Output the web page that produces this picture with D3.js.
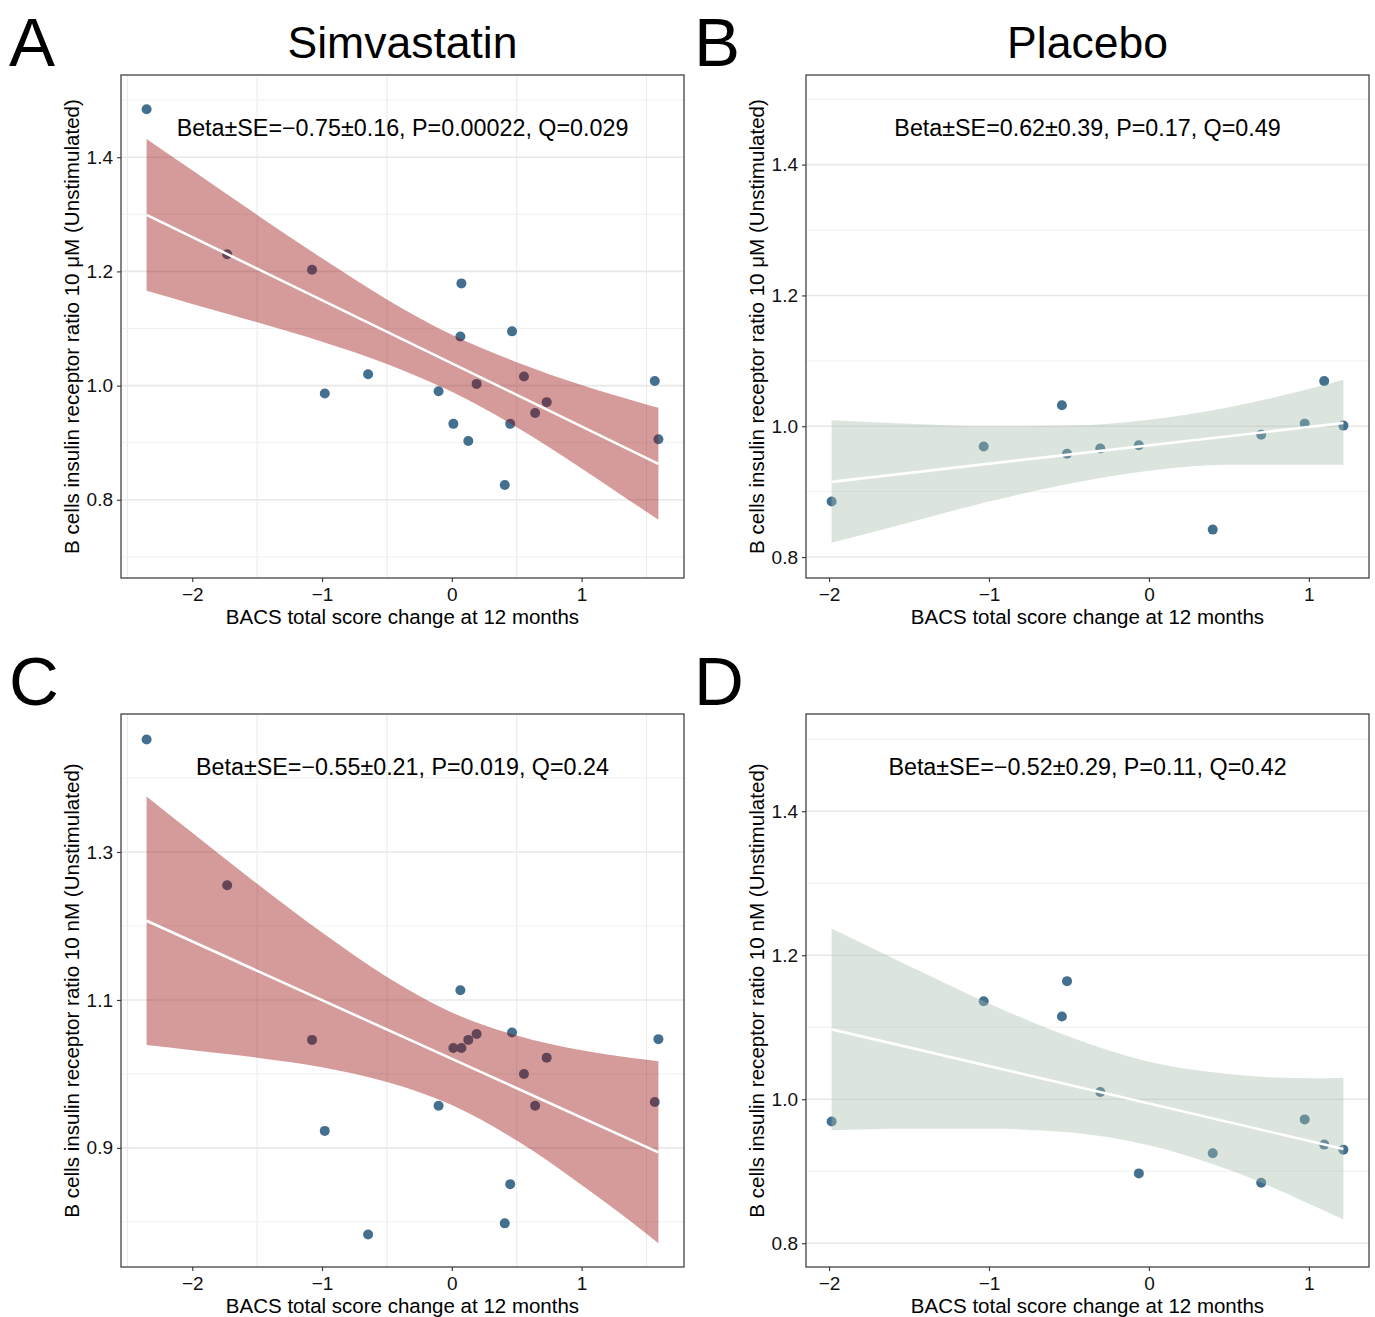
<!DOCTYPE html>
<meta charset="utf-8">
<script src="https://d3js.org/d3.v7.min.js"></script>
<style>
  body { margin: 0; background: #fff; }
  svg text { font-family: "Liberation Sans", Arial, sans-serif; }
</style>
<div id="chart"></div>
<script>

// ---- data ----
// simvastatin arm (19 subjects)
var simvX      = [-2.352, -1.731, -1.077, -0.979, -0.645, -0.102, 0.012, 0.074, 0.066, 0.127, 0.191, 0.464, 0.408, 0.450, 0.556, 0.642, 0.731, 1.564, 1.592];
var simvY_uM   = [1.484, 1.230, 1.203, 0.986, 1.020, 0.990, 0.933, 1.179, 1.086, 0.903, 1.003, 1.095, 0.826, 0.933, 1.016, 0.952, 0.971, 1.008, 0.906];
var simvY_nM   = [1.452, 1.255, 1.046, 0.923, 0.783, 0.957, 1.035, 1.035, 1.113, 1.046, 1.054, 1.056, 0.798, 0.851, 1.000, 0.957, 1.022, 0.962, 1.047];

// placebo arm (11 subjects)
var placX      = [-1.984, -1.033, -0.544, -0.512, -0.304, -0.063, 0.399, 0.702, 0.974, 1.096, 1.216];
var placY_uM   = [0.885, 0.969, 1.032, 0.958, 0.966, 0.971, 0.842, 0.987, 1.004, 1.069, 1.001];
var placY_nM   = [0.969, 1.136, 1.115, 1.164, 1.010, 0.897, 0.925, 0.884, 0.972, 0.937, 0.930];

// fitted line (ends) and confidence band
var simvBandX  = [-2.352, -2, -1.5, -1, -0.5, 0, 0.5, 1, 1.5, 1.592];
var bandA_hi   = [1.432, 1.377, 1.299, 1.223, 1.151, 1.089, 1.041, 1.001, 0.967, 0.961];
var bandA_lo   = [1.166, 1.143, 1.111, 1.077, 1.038, 0.989, 0.927, 0.855, 0.779, 0.765];
var fitA       = [1.299, 0.863];
var bandC_hi   = [1.375, 1.326, 1.257, 1.191, 1.131, 1.083, 1.052, 1.032, 1.019, 1.017];
var bandC_lo   = [1.039, 1.032, 1.022, 1.009, 0.989, 0.958, 0.910, 0.850, 0.784, 0.771];
var fitC       = [1.207, 0.894];

var placBandX  = [-1.984, -1.5, -1, -0.5, 0, 0.5, 1, 1.216];
var bandB_hi   = [1.009, 1.004, 1.000, 1.001, 1.010, 1.029, 1.057, 1.071];
var bandB_lo   = [0.822, 0.853, 0.885, 0.912, 0.932, 0.941, 0.941, 0.941];
var fitB       = [0.915, 1.005];
var bandD_hi   = [1.237, 1.185, 1.133, 1.087, 1.052, 1.035, 1.029, 1.030];
var bandD_lo   = [0.957, 0.959, 0.959, 0.954, 0.936, 0.902, 0.855, 0.833];
var fitD       = [1.097, 0.931];

// axis limits and ticks
var yLimA = [0.663, 1.544], yLimB = [0.768, 1.537], yLimC = [0.739, 1.4865], yLimD = [0.767, 1.535];
var yTicksA = [0.8, 1.0, 1.2, 1.4], yTicksB = [0.8, 1.0, 1.2, 1.4], yTicksC = [0.9, 1.1, 1.3], yTicksD = [0.8, 1.0, 1.2, 1.4];
var xTicksSimv = [-2, -1, 0, 1], xTicksPlac = [-2, -1, 0, 1];

var titles = ["Simvastatin", "Placebo"];
var letters = ["A", "B", "C", "D"];
var stats = [
  "Beta\u00B1SE=\u22120.75\u00B10.16, P=0.00022, Q=0.029",
  "Beta\u00B1SE=0.62\u00B10.39, P=0.17, Q=0.49",
  "Beta\u00B1SE=\u22120.55\u00B10.21, P=0.019, Q=0.24",
  "Beta\u00B1SE=\u22120.52\u00B10.29, P=0.11, Q=0.42"
];
var yTitles = ["B cells insulin receptor ratio 10 \u03BCM (Unstimulated)", "B cells insulin receptor ratio 10 nM (Unstimulated)"];
var xTitle = "BACS total score change at 12 months";

// ---- layout ----
var W = 1375, H = 1317;
var svg = d3.select("#chart").append("svg").attr("width", W).attr("height", H);

var panels = [
  {left: 121, right: 684, top: 75, bottom: 578, xs: simvX, ys: simvY_uM, bx: simvBandX, hi: bandA_hi, lo: bandA_lo, fit: fitA, ylim: yLimA, yt: yTicksA, xt: xTicksSimv, fill: "#960505", letter: 0, title: titles[0], ytitle: yTitles[0]},
  {left: 806, right: 1369, top: 75, bottom: 578, xs: placX, ys: placY_uM, bx: placBandX, hi: bandB_hi, lo: bandB_lo, fit: fitB, ylim: yLimB, yt: yTicksB, xt: xTicksPlac, fill: "#a5beac", letter: 1, title: titles[1], ytitle: yTitles[0]},
  {left: 121, right: 684, top: 714, bottom: 1267, xs: simvX, ys: simvY_nM, bx: simvBandX, hi: bandC_hi, lo: bandC_lo, fit: fitC, ylim: yLimC, yt: yTicksC, xt: xTicksSimv, fill: "#960505", letter: 2, title: null, ytitle: yTitles[1]},
  {left: 806, right: 1369, top: 714, bottom: 1267, xs: placX, ys: placY_nM, bx: placBandX, hi: bandD_hi, lo: bandD_lo, fit: fitD, ylim: yLimD, yt: yTicksD, xt: xTicksPlac, fill: "#a5beac", letter: 3, title: null, ytitle: yTitles[1]}
];

panels.forEach(function(p, k) {
  var ext = d3.extent(p.xs), pad = (ext[1] - ext[0]) * 0.05;
  var x = d3.scaleLinear().domain([ext[0] - pad, ext[1] + pad]).range([p.left, p.right]);
  var y = d3.scaleLinear().domain(p.ylim).range([p.bottom, p.top]);
  var g = svg.append("g");

  // minor grid (half steps)
  var xMinor = d3.range(Math.ceil(x.domain()[0] * 2) / 2, x.domain()[1], 1).filter(function(v){ return Math.abs(v % 1) === 0.5; });
  var yMinor = p.yt.map(function(v){ return v - 0.1; }).concat([p.yt[p.yt.length - 1] + 0.1])
    .filter(function(v){ return v > p.ylim[0] && v < p.ylim[1]; });
  g.selectAll(".xminor").data(xMinor).enter().append("line")
    .attr("x1", function(d){ return x(d); }).attr("x2", function(d){ return x(d); })
    .attr("y1", p.top).attr("y2", p.bottom)
    .attr("stroke", "#ebebeb").attr("stroke-width", 1.1);
  g.selectAll(".yminor").data(yMinor).enter().append("line")
    .attr("x1", p.left).attr("x2", p.right)
    .attr("y1", function(d){ return y(d); }).attr("y2", function(d){ return y(d); })
    .attr("stroke", "#f0f0f0").attr("stroke-width", 1);
  g.selectAll(".ymajor").data(p.yt).enter().append("line")
    .attr("x1", p.left).attr("x2", p.right)
    .attr("y1", function(d){ return y(d); }).attr("y2", function(d){ return y(d); })
    .attr("stroke", "#e8e8e8").attr("stroke-width", 1.6);

  // points (under the band)
  g.selectAll("circle").data(p.xs).enter().append("circle")
    .attr("cx", function(d){ return x(d); })
    .attr("cy", function(d, i){ return y(p.ys[i]); })
    .attr("r", 5)
    .attr("fill", "#44708f");

  // confidence band
  var band = p.bx.map(function(v, i){ return {x: v, lo: p.lo[i], hi: p.hi[i]}; });
  g.append("path").datum(band)
    .attr("d", d3.area().curve(d3.curveMonotoneX)
      .x(function(d){ return x(d.x); })
      .y0(function(d){ return y(d.lo); })
      .y1(function(d){ return y(d.hi); }))
    .attr("fill", p.fill).attr("fill-opacity", 0.4);

  // fitted line
  g.append("path").datum([{x: p.bx[0], y: p.fit[0]}, {x: p.bx[p.bx.length - 1], y: p.fit[1]}])
    .attr("d", d3.line().x(function(d){ return x(d.x); }).y(function(d){ return y(d.y); }))
    .attr("stroke", "#ffffff").attr("stroke-width", 2.6).attr("fill", "none");

  // panel border
  g.append("rect").attr("x", p.left).attr("y", p.top)
    .attr("width", p.right - p.left).attr("height", p.bottom - p.top)
    .attr("fill", "none").attr("stroke", "#333333").attr("stroke-width", 1.2);

  // axes
  var xAxis = g.append("g").attr("transform", "translate(0," + p.bottom + ")")
    .call(d3.axisBottom(x).tickValues(p.xt).tickSize(4).tickPadding(6).tickFormat(d3.format("d")));
  var yAxis = g.append("g").attr("transform", "translate(" + p.left + ",0)")
    .call(d3.axisLeft(y).tickValues(p.yt).tickSize(4).tickPadding(4).tickFormat(d3.format(".1f")));
  [xAxis, yAxis].forEach(function(a) {
    a.select(".domain").remove();
    a.selectAll(".tick line").attr("stroke", "#333333").attr("stroke-width", 1.1);
    a.selectAll(".tick text").attr("fill", "#111111").style("font-size", "19px")
      .style("font-family", "'Liberation Sans', Arial, sans-serif");
  });

  // stats annotation
  var cx = (p.left + p.right) / 2;
  g.append("text").attr("x", cx).attr("y", p.top + 61)
    .attr("text-anchor", "middle").style("font-size", "23.3px").attr("fill", "#000")
    .text(stats[k]);

  // axis titles
  g.append("text").attr("x", cx).attr("y", p.bottom + 46)
    .attr("text-anchor", "middle").style("font-size", "20.5px").attr("fill", "#000")
    .text(xTitle);
  g.append("text")
    .attr("transform", "translate(" + (p.left - 42) + "," + ((p.top + p.bottom) / 2) + ") rotate(-90)")
    .attr("text-anchor", "middle").style("font-size", "20.6px").attr("fill", "#000")
    .text(p.ytitle);

  // panel title and letter
  if (p.title) {
    g.append("text").attr("x", cx).attr("y", p.top - 17)
      .attr("text-anchor", "middle").style("font-size", "44.5px").attr("fill", "#000")
      .text(p.title);
  }
  g.append("text").attr("x", p.left - 112).attr("y", p.top - 9)
    .style("font-size", "69px").attr("fill", "#000")
    .text(letters[p.letter]);
});

</script>
